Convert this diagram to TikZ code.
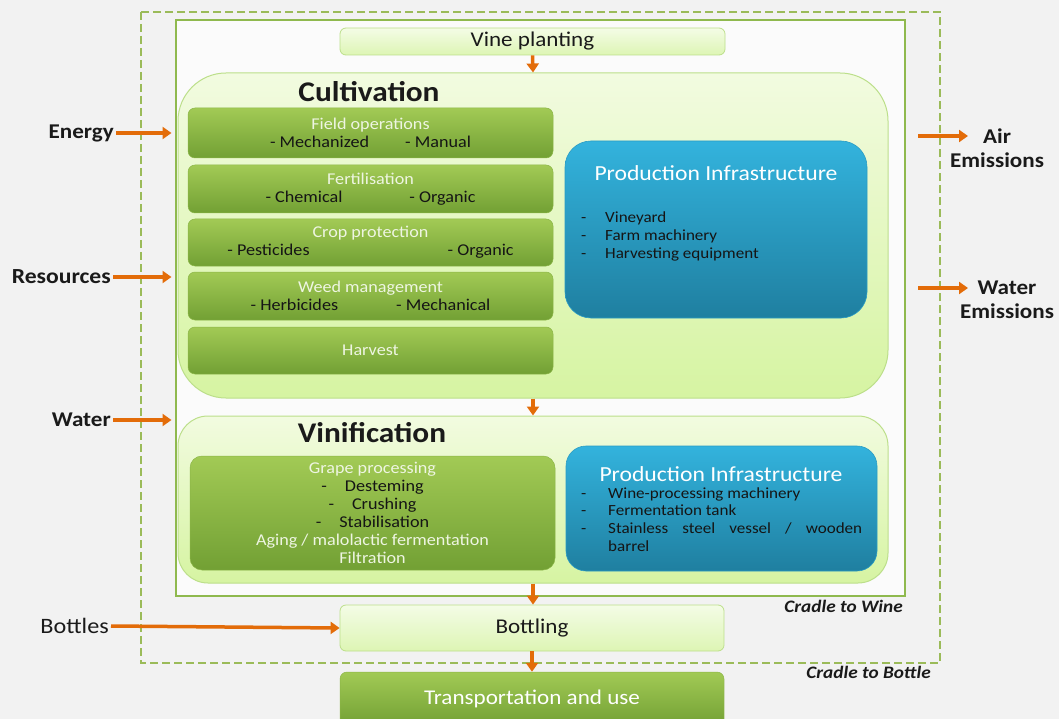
\documentclass[tikz,border=0pt]{standalone}
\usepackage{fontspec}
\setmainfont[FakeStretch=1.1]{Carlito}
\usetikzlibrary{arrows.meta,calc}
\definecolor{bg}{HTML}{F2F2F2}
\definecolor{inbg}{HTML}{FBFBFB}
\definecolor{frame}{HTML}{8FB94E}
\definecolor{dashc}{HTML}{9BBB59}
\definecolor{ltop}{HTML}{F4FCE6}
\definecolor{lbot}{HTML}{DDF5B4}
\definecolor{lgborder}{HTML}{BCDF8A}
\definecolor{ctop}{HTML}{F2FBE0}
\definecolor{cbot}{HTML}{D6F4A2}
\definecolor{gtop}{HTML}{A2CA55}
\definecolor{gbot}{HTML}{72A034}
\definecolor{gedge}{HTML}{8CB648}
\definecolor{btop}{HTML}{33B3DD}
\definecolor{bbot}{HTML}{1F7FA0}
\definecolor{bedge}{HTML}{2A9CC4}
\definecolor{titlec}{HTML}{EEF5E2}
\definecolor{itemc}{HTML}{151515}
\definecolor{orng}{HTML}{E36C09}
\definecolor{txt}{HTML}{1A1A1A}
\tikzset{
  lightbox/.style={draw=lgborder, line width=0.8pt, top color=ltop, bottom color=lbot, rounded corners=6pt, inner sep=0pt, text=txt, font=\fontsize{21}{24}\selectfont},
  phasebox/.style={draw=lgborder, line width=1pt, top color=ctop, bottom color=cbot, inner sep=0pt},
  greenbar/.style={top color=gtop, bottom color=gbot, draw=gedge, line width=0.5pt, rounded corners=7pt, minimum width=365pt, inner sep=0pt, align=center, font=\fontsize{16.5}{18}\selectfont, text=itemc},
  bluebox/.style={top color=btop, bottom color=bbot, draw=bedge, line width=0.6pt, inner sep=0pt},
  bluetitle/.style={text=white, font=\fontsize{21.5}{24}\selectfont, inner sep=0pt},
  bluelist/.style={text=itemc, font=\fontsize{15.5}{17.8}\selectfont, inner sep=0pt},
  phasetitle/.style={text=txt, font=\bfseries\fontsize{28.5}{30}\selectfont, inner sep=0pt},
  sidelabel/.style={text=txt, font=\bfseries\fontsize{21}{24}\selectfont, inner sep=2pt, align=center},
  cradle/.style={text=txt, font=\bfseries\itshape\fontsize{17.5}{20}\selectfont, inner sep=0pt},
  flow/.style={draw=orng, line width=3.5pt, -{Triangle[length=9pt,width=12pt]}},
}
\begin{document}
\begin{tikzpicture}[x=1pt,y=-1pt]
\useasboundingbox (0,0) rectangle (1059,719);
\fill[bg] (0,0) rectangle (1059,719);
\fill[inbg] (176,20) rectangle (905,596);
% boundaries
\draw[dashc, line width=2.5pt, dash pattern=on 8pt off 4pt] (141,12) rectangle (940,663);
\draw[frame, line width=2.5pt] (176,20) rectangle (905,596);
\node[cradle, anchor=east] (c2w) at (903,606) {Cradle to Wine};
\node[cradle, anchor=east] (c2b) at (931,672) {Cradle to Bottle};

% vine planting
\node[lightbox, minimum width=385pt, minimum height=27pt] (vine) at (532.5,41.5) {Vine planting};

% cultivation
\node[phasebox, rounded corners=48pt, minimum width=710pt, minimum height=325pt] (cult) at (533,235.5) {};
\node[phasetitle] (culttitle) at (369,92) {Cultivation};
\node[greenbar, minimum height=50pt] (field) at (370.5,133) {{\color{titlec}Field operations}\\- Mechanized\hspace{36pt}- Manual};
\node[greenbar, minimum height=48pt] (fert) at (370.5,189) {{\color{titlec}Fertilisation}\\- Chemical\hspace{67pt}- Organic};
\node[greenbar, minimum height=47pt] (crop) at (370.5,242.5) {{\color{titlec}Crop protection}\\- Pesticides\hspace{138pt}- Organic};
\node[greenbar, minimum height=48pt] (weed) at (370.5,296) {{\color{titlec}Weed management}\\- Herbicides\hspace{58pt}- Mechanical};
\node[greenbar, minimum height=47pt] (harv) at (370.5,350.5) {{\color{titlec}Harvest}};
\node[bluebox, rounded corners=26pt, minimum width=302pt, minimum height=177pt] (pi1) at (716,229.5) {};
\node[bluetitle] (pi1t) at (716,173) {Production Infrastructure};
\node[bluelist, anchor=base west] (pi1l) at (581,223) {\begin{tabular}[t]{@{}p{24pt}@{}l@{}}-&Vineyard\\-&Farm machinery\\-&Harvesting equipment\end{tabular}};

% vinification
\node[phasebox, rounded corners=30pt, minimum width=710pt, minimum height=167pt] (vin) at (533,499.5) {};
\node[phasetitle] (vintitle) at (372,433) {Vinification};
\node[greenbar, minimum width=365pt, minimum height=114pt, rounded corners=12pt] (grape) at (372.5,513) {{\color{titlec}Grape processing}\\-\hspace{18pt}Desteming\\-\hspace{18pt}Crushing\\-\hspace{18pt}Stabilisation\\{\color{titlec}Aging / malolactic fermentation}\\{\color{titlec}Filtration}};
\node[bluebox, rounded corners=20pt, minimum width=311pt, minimum height=125pt] (pi2) at (721.5,508.5) {};
\node[bluetitle] (pi2t) at (721,474) {Production Infrastructure};
\node[bluelist, anchor=base west] (pi2l) at (581,498) {\begin{tabular}[t]{@{}p{27pt}@{}l@{}}-&Wine-processing machinery\\-&Fermentation tank\\-&\makebox[254pt][s]{Stainless steel vessel / wooden}\\&barrel\end{tabular}};

% bottling & transport
\node[lightbox, minimum width=384pt, minimum height=46pt] (bott) at (532,628) {Bottling};
\node[top color=gtop, bottom color=gbot, draw=gedge, line width=0.5pt, rounded corners=7pt, minimum width=384pt, minimum height=54pt, inner sep=0pt, text=white, font=\fontsize{21}{24}\selectfont] (trans) at (532,699) {Transportation and use};

% vertical flow
\draw[flow] (vine.south) -- (cult.north);
\draw[flow] (cult.south) -- (vin.north);
\draw[flow] (vin.south) -- (bott.north -| vin.south);
\draw[flow] (bott.south) -- (trans.north);

% inputs
\node[sidelabel, anchor=east] (energy) at (116,133) {Energy};
\node[sidelabel, anchor=east, font=\bfseries\fontsize{21.5}{24}\selectfont] (res) at (113,277) {Resources};
\node[sidelabel, anchor=east] (water) at (113,420) {Water};
\node[sidelabel, anchor=east, font=\fontsize{22}{24}\selectfont] (bottles) at (111,626) {Bottles};
\draw[flow, shorten >=6pt] (energy.east) -- (energy.east -| cult.west);
\draw[flow, shorten >=6pt] (res.east) -- (res.east -| cult.west);
\draw[flow, shorten >=6pt] (water.east) -- (water.east -| vin.west);
\draw[flow] (bottles.east) -- (bott.west);

% outputs
\coordinate (air0) at (918,136);
\coordinate (wat0) at (918,288);
\node[sidelabel, anchor=north] (air) at (997,127) {Air\\Emissions};
\node[sidelabel, anchor=north] (watem) at (1007,279) {Water\\Emissions};
\draw[flow] (air0) -- ++(50,0) coordinate (air1);
\draw[flow] (wat0) -- ++(50,0) coordinate (wat1);
\end{tikzpicture}
\end{document}
